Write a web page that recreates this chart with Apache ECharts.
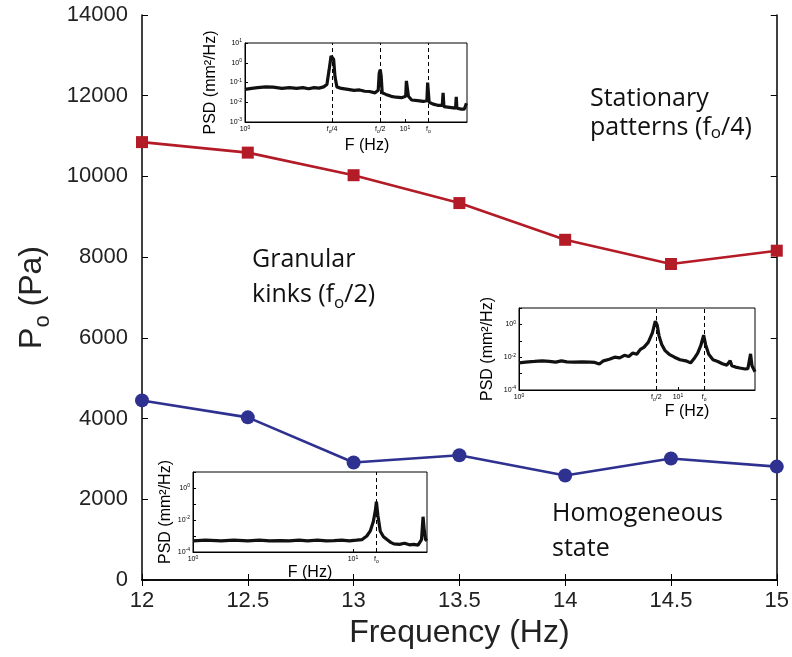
<!DOCTYPE html>
<html>
<head>
<meta charset="utf-8">
<script src="https://cdn.jsdelivr.net/npm/echarts@6/dist/echarts.min.js"></script>
<style>
  html, body { margin: 0; padding: 0; background: #fff; }
  #main { width: 792px; height: 657px; }
</style>
</head>
<body>
<div id="main"></div>
<script>
// main plot: pressure vs driving frequency
const freqs = [12, 12.5, 13, 13.5, 14, 14.5, 15];
const stationaryP = [10850, 10590, 10030, 9340, 8430, 7830, 8160];
const homogeneousP = [4450, 4030, 2910, 3090, 2590, 3010, 2810];

// PSD insets, [F (Hz), PSD (mm^2/Hz)]
const psdTop = [[1.0,0.045],[1.1,0.05],[1.2,0.055],[1.35,0.06],[1.5,0.058],[1.7,0.05],[1.9,0.055],[2.1,0.05],[2.3,0.055],[2.5,0.048],[2.7,0.055],[2.9,0.052],[3.1,0.06],[3.25,0.08],[3.35,0.4],[3.45,2.2],[3.5,2.6],[3.58,1.5],[3.65,0.2],[3.75,0.06],[4.0,0.05],[4.4,0.045],[4.8,0.04],[5.2,0.042],[5.6,0.036],[6.0,0.035],[6.5,0.03],[6.8,0.04],[6.9,0.3],[7.0,0.45],[7.1,0.2],[7.2,0.03],[7.6,0.025],[8.2,0.02],[8.8,0.018],[9.5,0.017],[10.1,0.02],[10.2,0.12],[10.35,0.14],[10.5,0.02],[11,0.013],[12,0.012],[13,0.011],[13.7,0.012],[13.85,0.1],[14,0.11],[14.15,0.01],[15,0.008],[16,0.007],[17.1,0.007],[17.3,0.03],[17.5,0.006],[19,0.0055],[20.7,0.005],[20.9,0.019],[21.1,0.005],[22.5,0.0045],[23.5,0.0045],[24.2,0.009]];
const psdMid = [[1.0,0.0045],[1.1,0.005],[1.25,0.0055],[1.4,0.006],[1.55,0.0055],[1.7,0.005],[1.85,0.006],[2.0,0.0052],[2.2,0.005],[2.5,0.0052],[2.8,0.005],[3.0,0.0048],[3.2,0.0038],[3.4,0.006],[3.7,0.0075],[4.0,0.01],[4.3,0.009],[4.6,0.013],[4.9,0.011],[5.2,0.018],[5.5,0.015],[5.8,0.03],[6.1,0.04],[6.5,0.08],[6.9,0.3],[7.2,1.6],[7.4,0.9],[7.6,0.2],[7.9,0.06],[8.3,0.025],[8.8,0.015],[9.5,0.01],[10.3,0.007],[11.2,0.006],[12.0,0.0045],[12.6,0.008],[13.3,0.018],[13.9,0.05],[14.5,0.22],[14.9,0.06],[15.6,0.015],[16.6,0.007],[17.8,0.0055],[19,0.004],[20.3,0.0033],[21.3,0.006],[21.8,0.003],[23.0,0.0025],[24.5,0.0022],[26.4,0.0019],[27.5,0.002],[28.6,0.016],[29.2,0.003],[30.5,0.0013]];
const psdLow = [[1.0,0.0005],[1.2,0.00055],[1.5,0.0005],[1.8,0.00055],[2.2,0.0005],[2.6,0.00055],[3.0,0.0005],[3.5,0.00052],[4.0,0.0005],[4.6,0.00055],[5.2,0.0005],[6.0,0.00055],[6.8,0.0005],[7.6,0.00052],[8.5,0.00055],[9.5,0.0005],[10.5,0.00055],[11.4,0.0006],[12.2,0.001],[12.8,0.002],[13.4,0.008],[13.8,0.04],[14.0,0.14],[14.3,0.02],[14.8,0.002],[15.5,0.0009],[16.3,0.0006],[17.2,0.0004],[18.0,0.00032],[19.5,0.0003],[21.0,0.00035],[22.5,0.00028],[24.0,0.0003],[25.5,0.00027],[26.8,0.0006],[27.4,0.016],[27.8,0.003],[28.4,0.0006],[29,0.0005]];

// dashed marker lines (F value, label)
const marksTop = [[3.5, 'f{sub|o}/4'], [7.0, 'f{sub|o}/2'], [14.0, 'f{sub|o}']];
const marksMid = [[7.3, 'f{sub|o}/2'], [14.6, 'f{sub|o}']];
const marksLow = [[14.0, 'f{sub|o}']];

const RED = '#b31b27';
const BLUE = '#2e3190';
const axisFont = 'Liberation Sans, Arial, sans-serif';
const noteFont = 'Open Sans, Noto Sans, sans-serif';

const tinyRich = {
  sup: { fontSize: 5, verticalAlign: 'top', fontFamily: axisFont, color: '#000' },
  sub: { fontSize: 5, verticalAlign: 'bottom', fontFamily: axisFont, color: '#000' }
};

function powLabel(every) {
  return function (v) {
    const e = Math.round(Math.log10(v));
    if (e % every !== 0) return '';
    return '10{sup|' + e + '}';
  };
}

function insetGrid(left, top, width, height) {
  return {
    left: left, top: top, width: width, height: height,
    show: true, backgroundColor: '#fff', borderColor: '#000', borderWidth: 1, z: 5
  };
}

function insetX(idx, max, nameGap, namePad) {
  return {
    type: 'log', logBase: 10, gridIndex: idx, min: 1, max: max,
    name: 'F (Hz)', nameLocation: 'middle', nameGap: nameGap,
    nameTextStyle: { fontSize: 16, fontFamily: axisFont, color: '#000', padding: namePad || 0 },
    axisLine: { show: true, lineStyle: { color: '#000', width: 1 } },
    axisTick: { inside: true, length: 3, lineStyle: { color: '#000' } },
    axisLabel: { formatter: powLabel(1), fontSize: 7, lineHeight: 9, margin: 3,
      fontFamily: axisFont, color: '#000', rich: tinyRich, showMaxLabel: false },
    splitLine: { show: false }, z: 6
  };
}

function insetY(idx, min, every, nameGap) {
  return {
    type: 'log', logBase: 10, gridIndex: idx, min: min, max: 10,
    name: 'PSD (mm²/Hz)', nameLocation: 'middle', nameGap: nameGap, nameRotate: 90,
    nameTextStyle: { fontSize: 16, fontFamily: axisFont, color: '#000' },
    axisLine: { show: true, lineStyle: { color: '#000', width: 1 } },
    axisTick: { inside: true, length: 3, lineStyle: { color: '#000' } },
    axisLabel: { formatter: powLabel(every), fontSize: 7, lineHeight: 9, margin: 3,
      fontFamily: axisFont, color: '#000', rich: tinyRich },
    splitLine: { show: false }, z: 6
  };
}

function insetSeries(idx, data, marks) {
  return {
    type: 'line', xAxisIndex: idx, yAxisIndex: idx, data: data,
    showSymbol: false, silent: true, z: 7,
    lineStyle: { color: '#111', width: 3.2 },
    markLine: {
      symbol: 'none', silent: true, animation: false,
      lineStyle: { type: [4, 3], color: '#000', width: 1 },
      label: { position: 'start', distance: 3, fontSize: 7, lineHeight: 9,
        fontFamily: axisFont, color: '#000', rich: tinyRich,
        formatter: function (p) { return p.name; } },
      data: marks.map(function (m) { return { xAxis: m[0], name: m[1] }; })
    }
  };
}

const mainTick = { inside: true, length: 6, lineStyle: { color: '#000', width: 1 } };
const mainLine = { show: true, lineStyle: { color: '#000', width: 1.5 } };

const chart = echarts.init(document.getElementById('main'));
const option = {
  animation: false,
  backgroundColor: '#fff',
  grid: [
    { left: 142, right: 14, top: 15, bottom: 77 },
    insetGrid(245, 43, 222, 79),
    insetGrid(519, 308, 236, 82),
    insetGrid(193, 472, 234, 80)
  ],
  xAxis: [
    {
      type: 'value', gridIndex: 0, min: 12, max: 15, interval: 0.5,
      name: 'Frequency (Hz)', nameLocation: 'middle', nameGap: 35,
      nameTextStyle: { fontSize: 32, fontFamily: axisFont, color: '#222' },
      axisLine: mainLine, axisTick: mainTick,
      axisLabel: { fontSize: 22, margin: 10, fontFamily: axisFont, color: '#222' },
      splitLine: { show: false }
    },
    {
      type: 'value', gridIndex: 0, position: 'top', min: 12, max: 15, interval: 0.5,
      axisLine: mainLine, axisTick: mainTick, axisLabel: { show: false }, splitLine: { show: false }
    },
    insetX(1, 24.4, 16, [0, 0, 0, 22]),
    insetX(2, 30.5, 14, [0, 0, 0, 100]),
    insetX(3, 29, 9)
  ],
  yAxis: [
    {
      type: 'value', gridIndex: 0, min: 0, max: 14000, interval: 2000,
      name: 'P{sub|o} (Pa)', nameLocation: 'middle', nameGap: 88, nameRotate: 90,
      nameTextStyle: { fontSize: 32, lineHeight: 44, fontFamily: axisFont, color: '#222',
        rich: { sub: { fontSize: 22, verticalAlign: 'bottom', fontFamily: axisFont, color: '#222' } } },
      axisLine: mainLine, axisTick: mainTick,
      axisLabel: { fontSize: 22, margin: 14, fontFamily: axisFont, color: '#222',
        formatter: function (v) { return String(v); } },
      splitLine: { show: false }
    },
    {
      type: 'value', gridIndex: 0, position: 'right', min: 0, max: 14000, interval: 2000,
      axisLine: mainLine, axisTick: mainTick, axisLabel: { show: false }, splitLine: { show: false }
    },
    insetY(1, 0.001, 1, 26),
    insetY(2, 0.0001, 2, 23),
    insetY(3, 0.0001, 2, 12)
  ],
  series: [
    {
      name: 'Stationary patterns', type: 'line', xAxisIndex: 0, yAxisIndex: 0,
      data: freqs.map(function (f, i) { return [f, stationaryP[i]]; }),
      symbol: 'rect', symbolSize: 12,
      lineStyle: { color: RED, width: 2.6 }, itemStyle: { color: RED }
    },
    {
      name: 'Homogeneous state', type: 'line', xAxisIndex: 0, yAxisIndex: 0,
      data: freqs.map(function (f, i) { return [f, homogeneousP[i]]; }),
      symbol: 'circle', symbolSize: 14,
      lineStyle: { color: BLUE, width: 2.6 }, itemStyle: { color: BLUE }
    },
    insetSeries(2, psdTop, marksTop),
    insetSeries(3, psdMid, marksMid),
    insetSeries(4, psdLow, marksLow)
  ],
  graphic: [
    {
      type: 'text', left: 590, top: 84, z: 10,
      style: { text: 'Stationary\npatterns (f{sub|o}/4)', font: '25px ' + noteFont, lineHeight: 29,
        fill: '#111', rich: { sub: { fontSize: 17, verticalAlign: 'bottom', fontFamily: noteFont, fill: '#111' } } }
    },
    {
      type: 'text', left: 252, top: 242, z: 10,
      style: { text: 'Granular\nkinks (f{sub|o}/2)', font: '25px ' + noteFont, lineHeight: 35,
        fill: '#111', rich: { sub: { fontSize: 17, verticalAlign: 'bottom', fontFamily: noteFont, fill: '#111' } } }
    },
    {
      type: 'text', left: 552, top: 496, z: 10,
      style: { text: 'Homogeneous\nstate', font: '25px ' + noteFont, lineHeight: 35, fill: '#111' }
    }
  ]
};
chart.setOption(option);
window.addEventListener('resize', function () {
  chart.resize();
});
</script>
</body>
</html>
